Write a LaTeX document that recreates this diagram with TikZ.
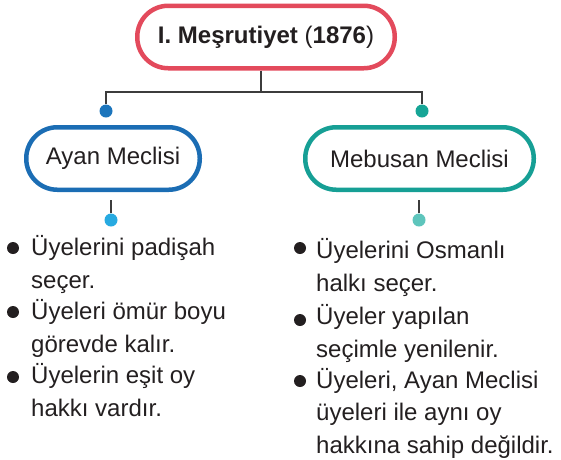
\documentclass[tikz,border=0pt]{standalone}
\usepackage{xcolor}
\usepackage{fontspec}
\setmainfont{Liberation Sans}
\usepackage{tikz}

\definecolor{ink}{HTML}{231F20}
\definecolor{linkgray}{HTML}{3C3C3C}
\definecolor{titlered}{HTML}{E34A5C}
\definecolor{ayanblue}{HTML}{1B6DB4}
\definecolor{mebteal}{HTML}{169F95}
\definecolor{ayandark}{HTML}{1C75BC}
\definecolor{mebdark}{HTML}{16A596}
\definecolor{ayanlight}{HTML}{27AAE1}
\definecolor{meblight}{HTML}{5EC5BC}

\begin{document}
\begin{tikzpicture}[x=1pt,y=-1pt,
    pill/.style={draw,line width=4.5pt,rounded corners=31pt,fill=white,
      minimum height=62.5pt,text=ink,font=\fontsize{24}{29}\selectfont},
    dot/.style={circle,inner sep=0pt,minimum size=13pt},
    link/.style={draw=linkgray,line width=1.3pt},
    item/.style={anchor=base west,align=left,inner sep=0pt,text=ink,
      font=\fontsize{24}{32.4}\selectfont}]
                \useasboundingbox (0,0) rectangle (561,459);
                \node[pill,draw=titlered,minimum width=257.5pt,
                  font=\bfseries\fontsize{24}{29}\selectfont] (title) at (266,37) {I. Meşrutiyet {\mdseries(}1876{\mdseries)}};
                \node[pill,draw=ayanblue,minimum width=173.5pt] (ayan) at (113,158.5) {Ayan Meclisi};
                \node[pill,draw=mebteal,minimum width=228.5pt] (mebusan) at (419.5,158.5) {Mebusan Meclisi};
                \node[dot,fill=ayandark] (ayantop) at (106,111) {};
                \node[dot,fill=mebdark] (mebtop) at (422,111) {};
                \node[dot,fill=ayanlight] (ayanbot) at (111,220) {};
                \node[dot,fill=meblight] (mebbot) at (419,220) {};
                \coordinate (split) at (261,92);
                \draw[link] (split |- title.south) -- (split);
                \draw[link] (ayantop.north) |- (split) -| (mebtop.north);
                \draw[link,shorten >=8pt] (ayanbot.north) -- (ayanbot.north |- ayan.south);
                \draw[link,shorten >=8pt] (mebbot.north) -- (mebbot.north |- mebusan.south);
                \node[item] (ayan1) at (31,288) {Üyelerini padişah\\seçer.};
                \node[item] (ayan2) at (31,352) {Üyeleri ömür boyu\\görevde kalır.};
                \node[item] (ayan3) at (31,416) {Üyelerin eşit oy\\hakkı vardır.};
                \node[item] (meb1) at (316,291) {Üyelerini Osmanlı\\halkı seçer.};
                \node[item] (meb2) at (316,357) {Üyeler yapılan\\seçimle yenilenir.};
                \node[item] (meb3) at (316,453) {Üyeleri, Ayan Meclisi\\üyeleri ile aynı oy\\hakkına sahip değildir.};
                \foreach \x/\y in {13/248,13/312,13/377,300/248,300/320,300/381}
                  \fill[ink] (\x,\y) circle (6);
            \end{tikzpicture}
\end{document}
